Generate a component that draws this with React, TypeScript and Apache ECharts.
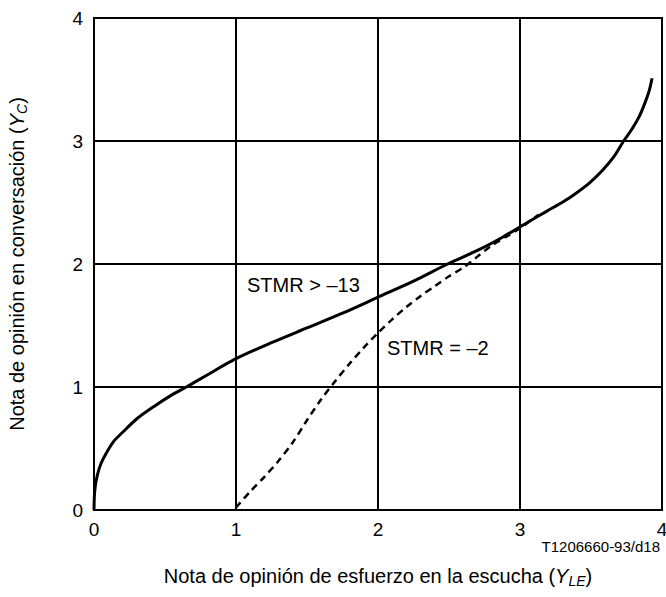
import React, { useEffect, useRef } from "react";
import * as echarts from "echarts";

const xTicks = [0, 1, 2, 3, 4];
const yTicks = [0, 1, 2, 3, 4];

// STMR > -13 (solid)
const solidX = [0, 0.003, 0.01, 0.025, 0.05, 0.09, 0.14, 0.2, 0.3, 0.42, 0.54, 0.65, 0.8, 1.0, 1.25, 1.5, 1.75, 2.0, 2.25, 2.49, 2.7, 2.88, 3.07, 3.19, 3.31, 3.4, 3.49, 3.58, 3.66, 3.73, 3.79, 3.84, 3.88, 3.91, 3.93];
const solidY = [0, 0.12, 0.2, 0.29, 0.38, 0.47, 0.56, 0.63, 0.74, 0.84, 0.93, 1.0, 1.1, 1.23, 1.36, 1.48, 1.6, 1.73, 1.86, 2.0, 2.11, 2.22, 2.35, 2.43, 2.51, 2.58, 2.66, 2.76, 2.87, 3.0, 3.1, 3.2, 3.31, 3.41, 3.51];

// STMR = -2 (dashed)
const dashX = [1.0, 1.1, 1.2, 1.3, 1.4, 1.5, 1.6, 1.7, 1.8, 1.9, 2.0, 2.1, 2.2, 2.3, 2.4, 2.5, 2.6, 2.7, 2.8, 2.9, 3.0, 3.13];
const dashY = [0.02, 0.15, 0.27, 0.4, 0.55, 0.73, 0.9, 1.05, 1.19, 1.32, 1.44, 1.55, 1.65, 1.74, 1.82, 1.9, 1.97, 2.06, 2.15, 2.22, 2.29, 2.4];

const FONT = "'Liberation Sans', Arial, sans-serif";

export default function App() {
  const ref = useRef<HTMLDivElement>(null);
  useEffect(() => {
    if (!ref.current) return;
    const chart = echarts.init(ref.current, undefined, { renderer: "svg" });
    const pair = (xs: number[], ys: number[]) => xs.map((x, i) => [x, ys[i]]);
    const nameRich = {
      i: { fontStyle: "italic", fontSize: 20, fontFamily: FONT, color: "#000" },
      sub: { fontStyle: "italic", fontSize: 14, fontFamily: FONT, color: "#000", padding: [10, 0, 0, 0] },
    };
    chart.setOption({
      animation: false,
      textStyle: { fontFamily: FONT, color: "#000" },
      grid: {
        left: 94,
        top: 18,
        width: 568,
        height: 492,
        show: true,
        borderColor: "#000",
        borderWidth: 2,
        backgroundColor: "transparent",
        outerBoundsMode: "none",
        containLabel: false,
      },
      xAxis: {
        type: "value",
        min: xTicks[0],
        max: xTicks[xTicks.length - 1],
        interval: 1,
        axisLine: { show: true, lineStyle: { color: "#000", width: 2 } },
        axisTick: { show: false },
        splitLine: { show: true, lineStyle: { color: "#000", width: 2 } },
        axisLabel: { color: "#000", fontSize: 19, fontFamily: FONT, margin: 10 },
        name: "Nota de opinión de esfuerzo en la escucha ({i|Y}{sub|LE})",
        nameLocation: "middle",
        nameGap: 54,
        nameTextStyle: { color: "#000", fontSize: 20, fontFamily: FONT, rich: nameRich },
      },
      yAxis: {
        type: "value",
        min: yTicks[0],
        max: yTicks[yTicks.length - 1],
        interval: 1,
        axisLine: { show: true, lineStyle: { color: "#000", width: 2 } },
        axisTick: { show: false },
        splitLine: { show: true, lineStyle: { color: "#000", width: 2 } },
        axisLabel: { color: "#000", fontSize: 19, fontFamily: FONT, margin: 11 },
        name: "Nota de opinión en conversación ({i|Y}{sub|C})",
        nameLocation: "middle",
        nameGap: 65,
        nameTextStyle: { color: "#000", fontSize: 20, fontFamily: FONT, rich: nameRich },
      },
      graphic: [
        {
          type: "text",
          left: 247,
          top: 275,
          style: { text: "STMR > –13", font: `20px ${FONT}`, fill: "#000" },
        },
        {
          type: "text",
          left: 387,
          top: 338,
          style: { text: "STMR = –2", font: `20px ${FONT}`, fill: "#000" },
        },
        {
          type: "text",
          right: 6,
          top: 539,
          style: { text: "T1206660-93/d18", font: `15px ${FONT}`, fill: "#000" },
        },
      ],
      series: [
        {
          type: "line",
          data: pair(solidX, solidY),
          smooth: 0.3,
          showSymbol: false,
          symbol: "none",
          lineStyle: { color: "#000", width: 3 },
        },
        {
          type: "line",
          data: pair(dashX, dashY),
          smooth: 0.3,
          showSymbol: false,
          symbol: "none",
          lineStyle: { color: "#000", width: 2.5, type: [7, 5] },
        },
      ],
    });
    return () => chart.dispose();
  }, []);
  return (
    <div
      ref={ref}
      style={{ position: "absolute", left: 0, top: 0, width: 666, height: 597 }}
    />
  );
}
